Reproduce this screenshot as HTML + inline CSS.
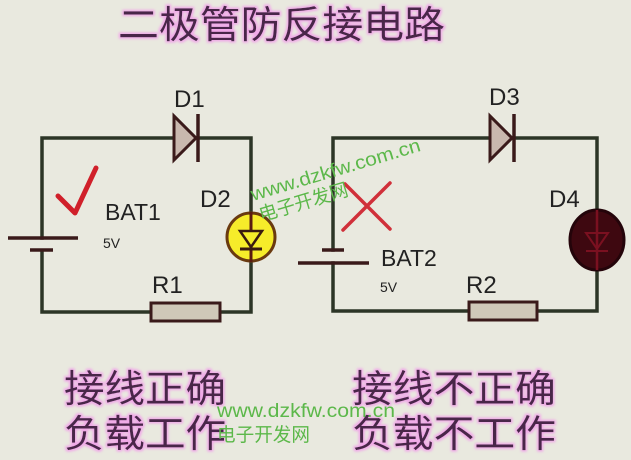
<!DOCTYPE html>
<html><head><meta charset="utf-8"><style>
html,body{margin:0;padding:0;background:#e9e9df;}
svg{display:block}
.cn{font-family:"Liberation Sans","Noto Sans CJK SC",sans-serif;}
</style></head><body>
<svg width="631" height="460" viewBox="0 0 631 460" xmlns="http://www.w3.org/2000/svg">
<rect width="631" height="460" fill="#e9e9df"/>
<defs>
<filter id="glow" x="-10%" y="-10%" width="120%" height="120%">
<feMorphology in="SourceAlpha" operator="dilate" radius="1.5" result="d"/>
<feGaussianBlur in="d" stdDeviation="1.2" result="b"/>
<feFlood flood-color="#f0a8e8"/>
<feComposite in2="b" operator="in" result="g"/>
<feMerge><feMergeNode in="g"/><feMergeNode in="SourceGraphic"/></feMerge>
</filter>
</defs>
<!-- Title -->
<text x="118" y="38" class="cn" font-size="38" fill="#4a2848" filter="url(#glow)" textLength="327" lengthAdjust="spacingAndGlyphs">二极管防反接电路</text>

<g fill="none" stroke="#2c3526" stroke-width="3.5" stroke-linecap="square">
<!-- left circuit -->
<polyline points="173,138 42,138 42,238"/>
<polyline points="197,138 251,138 251,212"/>
<polyline points="251,262 251,312 220,312"/>
<polyline points="151,312 42,312 42,251"/>
<!-- right circuit -->
<polyline points="489,138 333,138 333,250"/>
<polyline points="513,138 597,138 597,210"/>
<polyline points="597,270 597,311 537,311"/>
<polyline points="469,311 333,311 333,263"/>
</g>
<g stroke="#3a1a1a" stroke-width="3.5">
<line x1="8" y1="238" x2="78" y2="238"/>
<line x1="30" y1="250" x2="53" y2="250"/>
<line x1="322" y1="250" x2="344" y2="250"/>
<line x1="298" y1="263" x2="369" y2="263"/>
</g>
<!-- D1 -->
<polygon points="174,116 174,160 196,138" fill="#c9b8ae" stroke="#3a1a1a" stroke-width="3"/>
<line x1="198" y1="114" x2="198" y2="162" stroke="#3a1a1a" stroke-width="3.5"/>
<!-- D3 -->
<polygon points="490,116 490,160 512,138" fill="#c9b8ae" stroke="#3a1a1a" stroke-width="3"/>
<line x1="514" y1="114" x2="514" y2="162" stroke="#3a1a1a" stroke-width="3.5"/>
<!-- resistors -->
<rect x="151" y="303" width="69" height="18" fill="#cfc8b8" stroke="#3a1a1a" stroke-width="3"/>
<rect x="469" y="302" width="68" height="18" fill="#cfc8b8" stroke="#3a1a1a" stroke-width="3"/>
<!-- D2 LED yellow -->
<circle cx="251" cy="237" r="24" fill="#f6ec2a" stroke="#6a3a10" stroke-width="3"/>
<line x1="251" y1="212" x2="251" y2="262" stroke="#5a1a10" stroke-width="3"/>
<polygon points="240,231 262,231 251,247" fill="#f6ec2a" stroke="#3a1a10" stroke-width="2.5"/>
<line x1="240" y1="249" x2="262" y2="249" stroke="#3a1a10" stroke-width="3"/>
<!-- D4 LED dark -->
<ellipse cx="597" cy="240" rx="27" ry="30" fill="#3e0810" stroke="#24040a" stroke-width="3"/>
<line x1="597" y1="210" x2="597" y2="270" stroke="#7a1020" stroke-width="2.5"/>
<polygon points="586,233 608,233 597,249" fill="none" stroke="#7a1020" stroke-width="2"/>
<line x1="586" y1="251" x2="608" y2="251" stroke="#7a1020" stroke-width="2"/>
<!-- check -->
<polyline points="58,196 75,213 96,168" fill="none" stroke="#d0202a" stroke-width="5" stroke-linecap="round" stroke-linejoin="round"/>
<!-- X -->
<g stroke="#d0303a" stroke-width="3.5" stroke-linecap="round">
<line x1="345" y1="184" x2="390" y2="229"/>
<line x1="390" y1="183" x2="343" y2="230"/>
</g>
<!-- labels -->
<g font-family="Liberation Sans, sans-serif" fill="#222">
<text x="174" y="107" font-size="24">D1</text>
<text x="105" y="220" font-size="23">BAT1</text>
<text x="103" y="248" font-size="14">5V</text>
<text x="200" y="207" font-size="24">D2</text>
<text x="152" y="293" font-size="24">R1</text>
<text x="489" y="105" font-size="24">D3</text>
<text x="381" y="266" font-size="23">BAT2</text>
<text x="380" y="292" font-size="14">5V</text>
<text x="549" y="207" font-size="24">D4</text>
<text x="466" y="293" font-size="24">R2</text>
</g>
<!-- bottom text -->
<g class="cn" font-size="38" fill="#4a2848" filter="url(#glow)">
<text x="64" y="402" textLength="162" lengthAdjust="spacingAndGlyphs">接线正确</text>
<text x="64" y="447" textLength="162" lengthAdjust="spacingAndGlyphs">负载工作</text>
<text x="352" y="402" textLength="204" lengthAdjust="spacingAndGlyphs">接线不正确</text>
<text x="352" y="447" textLength="204" lengthAdjust="spacingAndGlyphs">负载不工作</text>
</g>
<!-- watermarks -->
<g class="cn" fill="#5cb84a">
<text x="217" y="417" font-size="19" textLength="178" lengthAdjust="spacingAndGlyphs">www.dzkfw.com.cn</text>
<text x="217" y="441" font-size="19" textLength="93" lengthAdjust="spacingAndGlyphs">电子开发网</text>
<g transform="translate(253,201) rotate(-16.6)">
<text x="0" y="0" font-size="19" textLength="176" lengthAdjust="spacingAndGlyphs">www.dzkfw.com.cn</text>
<text x="2" y="22" font-size="19" textLength="92" lengthAdjust="spacingAndGlyphs">电子开发网</text>
</g>
</g>
</svg>
</body></html>
